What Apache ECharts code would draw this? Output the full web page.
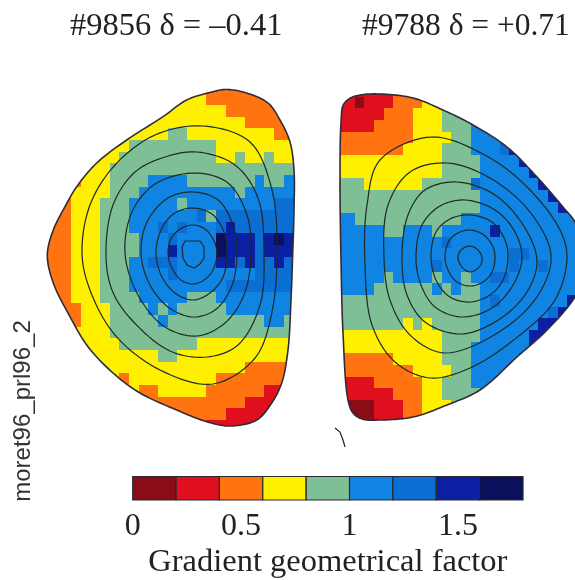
<!DOCTYPE html>
<html><head><meta charset="utf-8">
<style>html,body{margin:0;padding:0;background:#fff}#c{width:575px;height:580px}</style>
<script src="https://cdn.jsdelivr.net/npm/echarts@6/dist/echarts.min.js"></script>
</head><body><div id="c"></div>
<script>
const titleLeft = '#9856 δ = –0.41';
const titleRight = '#9788 δ = +0.71';
const sideLabel = 'moret96_prl96_2';
const barName = 'Gradient geometrical factor';
const barEdges = [0,0.2,0.4,0.6,0.8,1,1.2,1.4,1.6,1.8];
const levelColors = ['#8a0c16','#e00f1e','#ff7410','#fff000','#7fbf96','#0f84e2','#0a6ed2','#0a1fa2','#0a105c'];

// each row: level, end column, level, end column ...
const leftRows = [
[3,17,2,27],[3,17,2,27],[3,19,2,27],[3,21,2,27],
[3,13,4,15,3,24,2,27],[3,9,4,18,3,27],[3,8,4,18,3,20,4,21,3,23,4,24,3,27],[3,7,4,27],
[2,4,3,7,4,11,5,15,4,22,5,23,4,25,5,27],[3,7,4,10,5,20,4,21,5,27],
[2,3,3,6,4,9,5,14,4,15,5,24,6,27],[2,3,3,6,4,9,5,16,6,17,4,18,6,27],
[2,3,3,6,4,9,5,12,6,13,5,14,6,15,5,18,6,19,7,20,6,27],
[2,3,3,6,4,10,5,13,6,14,5,18,8,19,7,22,6,23,7,24,8,25,7,26,6,27],
[2,3,3,6,4,10,5,13,7,14,5,18,8,19,7,22,6,23,7,26,6,27],
[2,3,3,6,4,9,5,11,6,14,5,18,7,20,6,21,7,22,6,24,7,25,6,27],
[2,3,3,6,4,9,5,13,6,14,5,22,6,27],[2,3,3,6,4,9,5,19,6,27],
[2,3,3,6,4,10,5,15,4,18,5,27],[2,4,3,7,4,11,5,12,4,13,5,14,4,19,5,27],
[2,4,3,7,4,12,5,13,4,23,5,25,4,27],[3,7,4,27],[3,8,4,16,3,27],[3,12,4,14,3,27],
[3,21,2,27],[3,8,2,9,3,18,2,27],[3,10,2,12,3,17,2,23,1,27],[2,21,1,27],[2,19,1,27],[2,17,1,27]
];
const rightRows = [
[1,6,2,9,3,11,4,26],[1,2,0,3,1,6,2,9,3,11,4,26],[1,5,2,8,3,11,4,14,5,26],[1,4,2,8,3,11,4,14,5,26],
[2,8,3,12,4,14,5,26],[2,7,3,11,4,14,5,17,6,18,7,26],[3,11,4,15,5,19,7,26],[3,11,4,15,5,20,7,26],
[4,3,3,9,4,14,6,15,5,21,7,26],[4,15,5,22,7,26],[4,15,5,23,7,26],[5,2,4,13,5,26],
[5,5,4,7,5,10,4,11,5,16,7,17,5,26],[5,11,6,12,5,26],[5,18,6,20,5,26],
[5,10,6,11,5,18,6,19,5,21,6,22,5,26],[5,5,4,6,5,10,4,11,5,13,4,14,5,16,6,18,5,26],
[5,4,4,10,5,11,4,12,5,13,4,15,5,26],[4,15,5,16,6,17,5,24,7,26],[4,15,5,22,6,23,7,26],
[4,7,3,8,4,9,3,10,4,15,5,21,7,26],[3,11,4,15,5,20,7,26],[3,11,4,14,5,20,7,26],
[2,6,3,11,4,14,5,19,7,26],[2,8,3,12,4,14,5,26],[1,4,2,9,3,11,4,14,5,26],
[1,6,2,9,3,11,4,15,5,26],[0,4,1,7,2,9,3,12,4,26],[0,4,1,7,2,9,3,12,4,26]
];

const leftEdge = [[226,89.5],[245,92.5],[268,103],[280,120],[290,142],[294,170],[294,210],[292.5,260],[291,300],[288,350],[281.7,383],[271.7,403],[256.7,420],[230,426],[206.7,421.7],[176.7,410],[140,393],[113,373],[88,346.7],[70,316.7],[53.3,283],[47.3,255],[53.3,230],[65,206.7],[76.7,186.7],[96.7,163],[126.7,140],[163,116.7],[186.7,100],[212,92]];
const rightEdge = [[343.3,105],[350,98.3],[360,95],[380,94],[413,98],[443,110],[473,125],[507,147],[537,177],[563,207],[575,222],[592,260],[575,297],[547,330],[517,357],[480,390],[447,405],[413,417],[380,420],[362,419],[353,413],[348,400],[343,333],[341,260],[340,180],[341,123]];

const leftA = [[82,253],[90,205],[115,165],[155,135],[203,126],[250,142],[272,190],[277,250],[272,312],[255,358],[213,384],[160,370],[115,335],[90,290]];
const leftB = [[106,255],[113,205],[135,172],[165,157],[197,152],[235,165],[258,198],[264,255],[260,305],[238,345],[207,357],[170,351],[130,318],[112,290]];
const leftC = [[125,253],[132,212],[155,184],[195,173],[228,183],[247,215],[251,255],[244,295],[225,323],[197,336],[165,327],[138,295]];
const leftD = [[141,253],[147,222],[168,198],[193,192],[218,200],[233,225],[237,255],[231,288],[215,310],[193,317],[168,307],[149,283]];
const leftE = [[156,253],[162,228],[175,213],[193,208],[212,214],[224,232],[227,253],[223,277],[210,293],[193,300],[175,293],[162,277]];
const leftF = [[168,253],[172,237],[182,228],[193,225],[205,229],[214,241],[217,253],[213,270],[204,280],[193,284],[181,280],[172,268]];
const leftG = [[185,241],[200,241],[204,247],[204,258],[200,264],[194,268],[187,265],[183,258],[182,247]];

const rightA = [[470,246],[478,250],[482,258],[480,266],[470,272],[462,267],[458,258],[461,250]];
const rightB = [[445,258],[449,241],[458,233],[470,230],[484,235],[493,247],[495,258],[492,272],[483,282],[470,286],[457,282],[449,272]];
const rightC = [[431,258],[436,232],[450,219],[470,215],[492,222],[505,240],[508,258],[503,280],[490,295],[470,302],[450,297],[437,282]];
const rightD = [[416,258],[422,225],[440,206],[465,200],[495,210],[515,232],[522,258],[513,285],[492,308],[462,317],[435,307],[421,285]];
const rightE = [[402,258],[408,215],[425,190],[457,182],[495,195],[525,228],[537,262],[525,295],[495,322],[460,334],[425,322],[407,295]];
const rightF = [[384,258],[388,205],[410,172],[447,163],[490,178],[530,212],[551,255],[540,292],[505,328],[445,353],[410,335],[390,300]];
const rightG = [[365,265],[367,205],[380,160],[432,137],[490,158],[530,190],[560,230],[567,258],[555,300],[520,335],[470,368],[430,378],[395,362],[372,325]];
const tickMark = [[335,428],[340,432],[343,440],[345,447]];

const contours = [leftA,leftB,leftC,leftD,leftE,leftF,leftG,rightA,rightB,rightC,rightD,rightE,rightF,rightG];

const cellW = 9.667, cellH = 11.67;
function runs(rows, x0, y0){
  const out = [];
  rows.forEach((r,i)=>{
    let s = 0;
    for(let k=0;k<r.length;k+=2){
      out.push([x0+s*cellW, y0+i*cellH, x0+r[k+1]*cellW, y0+(i+1)*cellH, r[k]]);
      s = r[k+1];
    }
  });
  return out;
}
// Closed centripetal Catmull-Rom through the points (screen coordinates), used only for stroking.
function closedCurve(pts){
  const n = pts.length, out = [];
  const d = (a,b)=>Math.max(1e-3,Math.sqrt(Math.hypot(a[0]-b[0],a[1]-b[1])));
  const lerp = (a,b,ta,tb,t)=>[a[0]+(b[0]-a[0])*(t-ta)/(tb-ta), a[1]+(b[1]-a[1])*(t-ta)/(tb-ta)];
  for(let i=0;i<n;i++){
    const p0=pts[(i-1+n)%n],p1=pts[i],p2=pts[(i+1)%n],p3=pts[(i+2)%n];
    const t0=0,t1=t0+d(p0,p1),t2=t1+d(p1,p2),t3=t2+d(p2,p3);
    for(let s=0;s<10;s++){
      const t=t1+(t2-t1)*s/10;
      const a1=lerp(p0,p1,t0,t1,t),a2=lerp(p1,p2,t1,t2,t),a3=lerp(p2,p3,t2,t3,t);
      const b1=lerp(a1,a2,t0,t2,t),b2=lerp(a2,a3,t1,t3,t);
      out.push(lerp(b1,b2,t1,t2,t));
    }
  }
  return out;
}
function poly(api, pts){ return pts.map(p=>api.coord(p)); }
function cellSeries(name, rows, x0, y0, edge){
  return {
    type:'custom', name, coordinateSystem:'cartesian2d', xAxisIndex:0, yAxisIndex:0, clip:false, silent:true,
    data: runs(rows,x0,y0),
    encode:{x:[0,2],y:[1,3]},
    renderItem(params, api){
      const a = api.coord([api.value(0),api.value(1)]), b = api.coord([api.value(2),api.value(3)]);
      const xa=Math.round(a[0]), ya=Math.round(a[1]), xb=Math.round(b[0]), yb=Math.round(b[1]);
      return {type:'rect', shape:{x:xa,y:ya,width:xb-xa,height:yb-ya},
        style:{fill:levelColors[api.value(4)]},
        clipPath:{type:'polygon',shape:{points:closedCurve(poly(api,edge))}}};
    }
  };
}
function curveSeries(name, list, sty, curved){
  return {
    type:'custom', name, coordinateSystem:'cartesian2d', xAxisIndex:0, yAxisIndex:0, clip:true, silent:true,
    data:list.map((_,i)=>[i,0]), encode:{x:0,y:1},
    renderItem(params, api){
      const i = api.value(0), pts = poly(api,list[i]);
      return curved(i)
        ? {type:'polygon', shape:{points:closedCurve(pts)}, style:Object.assign({fill:'none'},sty)}
        : {type:list[i]===tickMark?'polyline':'polygon', shape:{points:pts}, style:Object.assign({fill:'none'},sty)};
    }
  };
}
const chart = echarts.init(document.getElementById('c'),null,{renderer:'canvas'});
chart.setOption({
  animation:false, backgroundColor:'#ffffff',
  grid:[{left:0,top:0,width:575,height:580},{left:132.7,top:476.5,width:390.3,height:34}],
  xAxis:[
    {gridIndex:0,type:'value',min:0,max:575,show:false},
    {gridIndex:1,type:'value',min:0,max:1.8,interval:0.5,
     axisLine:{show:false},axisTick:{show:false},splitLine:{show:false},
     axisLabel:{margin:11,fontFamily:'Liberation Serif',fontSize:32,color:'#222',showMaxLabel:false},
     name:barName,nameLocation:'middle',nameGap:46,
     nameTextStyle:{fontFamily:'Liberation Serif',fontSize:32.5,color:'#222'}}
  ],
  yAxis:[
    {gridIndex:0,type:'value',min:0,max:580,inverse:true,show:false},
    {gridIndex:1,type:'value',min:0,max:1,show:false}
  ],
  series:[
    cellSeries('left cells',leftRows,42,81.67,leftEdge),
    cellSeries('right cells',rightRows,335.33,85,rightEdge),
    curveSeries('flux surfaces',contours,{stroke:'#1c2a2a',lineWidth:1.2},i=>i!==6),
    curveSeries('plasma edges',[leftEdge,rightEdge],{stroke:'#332a38',lineWidth:1.6},()=>true),
    curveSeries('tick mark',[tickMark],{stroke:'#222',lineWidth:1.2},()=>false),
    {type:'custom',name:'colour bar',coordinateSystem:'cartesian2d',xAxisIndex:1,yAxisIndex:1,silent:true,
     data:barEdges.slice(0,-1).map((e,i)=>[e,barEdges[i+1],i]),encode:{x:[0,1]},
     renderItem(params,api){
       const a=api.coord([api.value(0),1]), b=api.coord([api.value(1),0]);
       return {type:'rect',shape:{x:a[0],y:a[1],width:b[0]-a[0],height:b[1]-a[1]},
         style:{fill:levelColors[api.value(2)],stroke:'#2a2a30',lineWidth:1.2}};
     }}
  ],
  graphic:[
    {type:'text',left:70,top:10,style:{text:titleLeft,font:'32.5px "Liberation Serif"',fill:'#222'}},
    {type:'text',left:362,top:11,style:{text:titleRight,font:'31.5px "Liberation Serif"',fill:'#222'}},
    {type:'text',x:23,y:411,rotation:Math.PI/2,style:{text:sideLabel,font:'24px "Liberation Sans"',fill:'#333',align:'center',verticalAlign:'middle'}}
  ]
});
</script></body></html>
